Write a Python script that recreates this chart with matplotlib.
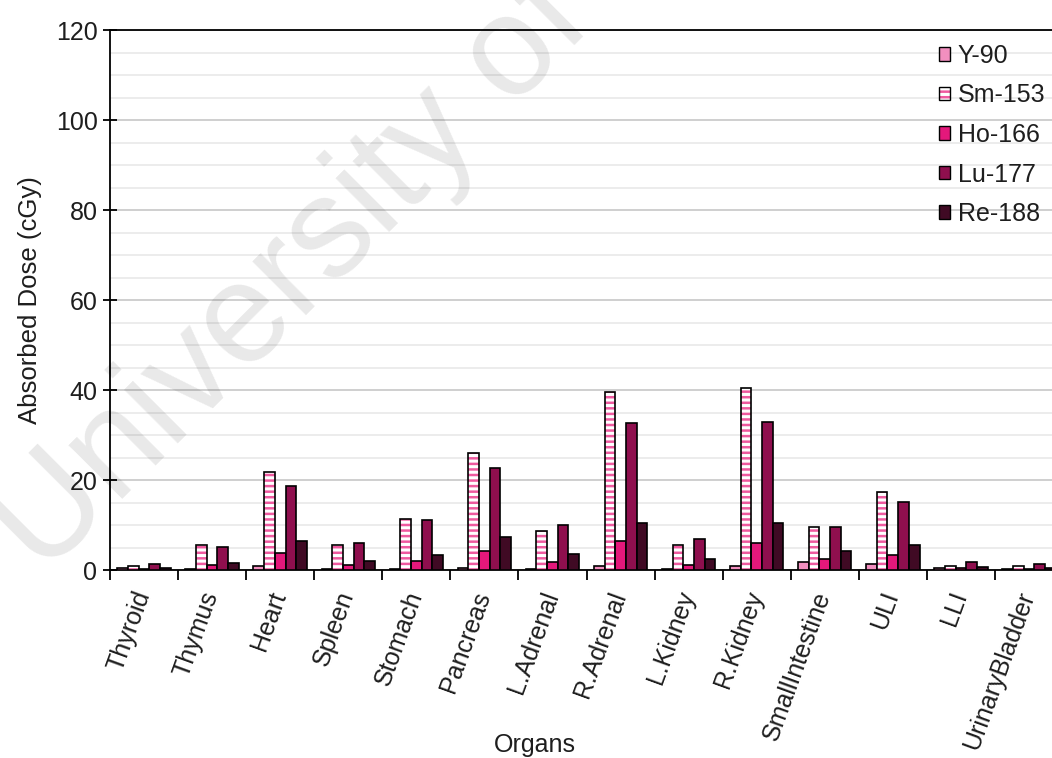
import matplotlib
matplotlib.use("Agg")
import matplotlib.pyplot as plt
from matplotlib.patches import Patch
from matplotlib.ticker import MultipleLocator
from matplotlib.transforms import ScaledTranslation
import numpy as np

organs = ["Thyroid", "Thymus", "Heart", "Spleen", "Stomach", "Pancreas",
          "L.Adrenal", "R.Adrenal", "L.Kidney", "R.Kidney", "SmallIntestine",
          "ULI", "LLI", "UrinaryBladder"]

y90 = [0.4, 0.2, 0.8, 0.2, 0.3, 0.4, 0.3, 0.8, 0.3, 0.8, 1.7, 1.3, 0.35, 0.3]
sm153 = [0.8, 5.6, 21.7, 5.6, 11.3, 26.1, 8.6, 39.5, 5.6, 40.4, 9.5, 17.3, 0.8, 0.8]
ho166 = [0.3, 1.1, 3.8, 1.1, 2.0, 4.2, 1.7, 6.4, 1.1, 6.0, 2.4, 3.3, 0.35, 0.3]
lu177 = [1.3, 5.1, 18.7, 6.0, 11.2, 22.6, 10.0, 32.7, 6.8, 33.0, 9.5, 15.1, 1.7, 1.3]
re188 = [0.4, 1.6, 6.4, 2.1, 3.4, 7.4, 3.5, 10.4, 2.5, 10.4, 4.3, 5.6, 0.75, 0.5]

series_names = ["Y-90", "Sm-153", "Ho-166", "Lu-177", "Re-188"]

C_Y90 = "#f28fbf"
C_SM = "#ef5aa0"
C_HO = "#e4187b"
C_LU = "#8f0f4e"
C_RE = "#400a24"
TXT = "#1e1e1e"

plt.rcParams["font.family"] = ["Liberation Sans", "DejaVu Sans"]
plt.rcParams["hatch.linewidth"] = 1.8

W, H = 1052, 758
fig = plt.figure(figsize=(W / 100, H / 100), dpi=100)
ax = fig.add_axes([110 / W, 188 / H, 953 / W, 540 / H])
ax.set_facecolor("none")

# grid: light every 5, darker every 20
ax.set_ylim(0, 120)
ax.set_xlim(0, len(organs))
ax.yaxis.set_major_locator(MultipleLocator(20))
ax.yaxis.set_minor_locator(MultipleLocator(5))
ax.grid(which="minor", axis="y", color="#ebebeb", lw=1.3, zorder=0)
ax.grid(which="major", axis="y", color="#cccccc", lw=1.3, zorder=0)

n = len(organs)
idx = np.arange(n)
bw = 0.157
lw_edge = 1.2

def xpos(k):
    return idx + 0.5 + (k - 2) * bw

ax.bar(xpos(0), y90, bw, color=C_Y90, edgecolor="black", lw=lw_edge, zorder=3)
ax.bar(xpos(1), sm153, bw, color="white", edgecolor=C_SM, hatch="---", lw=0, zorder=3)
ax.bar(xpos(1), sm153, bw, fill=False, edgecolor="black", lw=lw_edge, zorder=4)
ax.bar(xpos(2), ho166, bw, color=C_HO, edgecolor="black", lw=lw_edge, zorder=3)
ax.bar(xpos(3), lu177, bw, color=C_LU, edgecolor="black", lw=lw_edge, zorder=3)
ax.bar(xpos(4), re188, bw, color=C_RE, edgecolor="black", lw=lw_edge, zorder=3)

# spines
for s in ["left", "bottom", "top", "right"]:
    ax.spines[s].set_color("black")
    ax.spines[s].set_linewidth(1.3)

# y ticks
ax.tick_params(axis="y", which="major", direction="inout", length=10, width=1.3,
               labelsize=18, labelcolor=TXT, pad=4)
ax.tick_params(axis="y", which="minor", length=0)

# x ticks at category boundaries, labels at category centres
ax.set_xticks(np.arange(n + 1))
ax.set_xticklabels([])
ax.set_xticks(idx + 0.5, minor=True)
ax.set_xticklabels(organs, minor=True, rotation=70, ha="right", va="top",
                   rotation_mode="anchor", fontsize=18, color=TXT)
ax.tick_params(axis="x", which="major", direction="out", length=7, width=1.3)
ax.tick_params(axis="x", which="minor", length=0, pad=13)
shift = ScaledTranslation(-12 / 100, 0, fig.dpi_scale_trans)
for lab in ax.get_xticklabels(minor=True):
    lab.set_transform(lab.get_transform() + shift)

ax.set_ylabel("Absorbed Dose (cGy)", fontsize=18.5, color=TXT)
ax.yaxis.set_label_coords(-0.071, 0.5)
fig.text(535 / W, 1 - 745 / H, "Organs", fontsize=18, color=TXT,
         ha="center", va="center")

# legend
h_y = Patch(facecolor=C_Y90, edgecolor="black", lw=1.0)
h_sm = (Patch(facecolor="white", edgecolor=C_SM, hatch="---", lw=0),
        Patch(fill=False, edgecolor="black", lw=1.0))
h_ho = Patch(facecolor=C_HO, edgecolor="black", lw=1.0)
h_lu = Patch(facecolor=C_LU, edgecolor="black", lw=1.0)
h_re = Patch(facecolor=C_RE, edgecolor="black", lw=1.0)
leg = fig.legend([h_y, h_sm, h_ho, h_lu, h_re], series_names,
                 loc="upper left", bbox_to_anchor=(939 / W, 1 - 44 / H),
                 frameon=False, fontsize=18, handlelength=0.45, handleheight=0.45,
                 handletextpad=0.3, labelspacing=0.62, borderpad=0, borderaxespad=0)
for t in leg.get_texts():
    t.set_color(TXT)

# watermark
fig.text(44 / W, 1 - 578 / H, "University of", fontsize=102, color="black",
         alpha=0.09, rotation=45, rotation_mode="anchor", ha="left",
         va="baseline", zorder=10)

fig.savefig("out.png", dpi=100)
